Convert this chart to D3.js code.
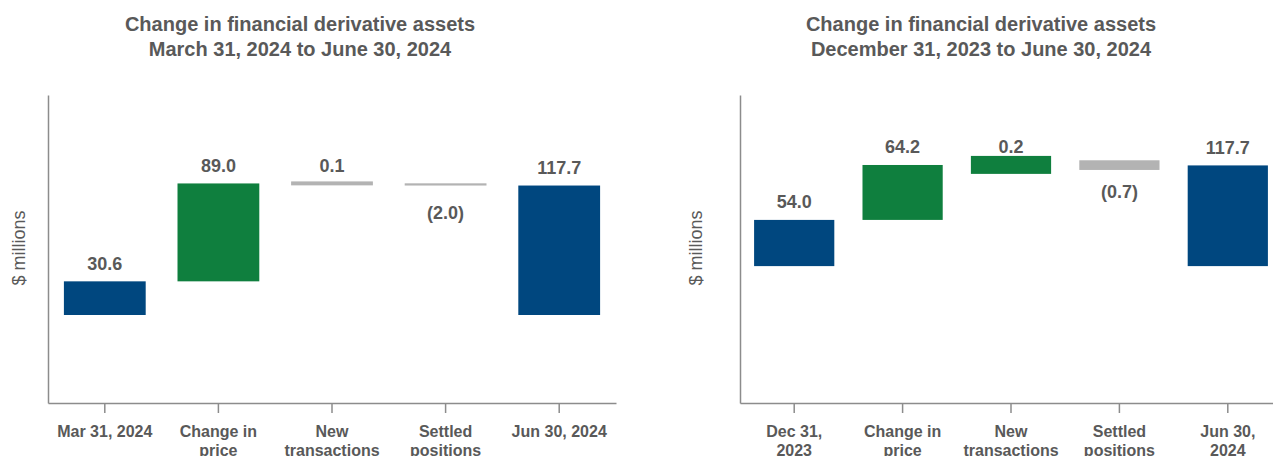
<!DOCTYPE html>
<html>
<head>
<meta charset="utf-8">
<script src="https://cdn.jsdelivr.net/npm/d3@7"></script>
<style>
  body { margin: 0; background: #fff; }
  svg { display: block; font-family: "Liberation Sans", Arial, sans-serif; }
</style>
</head>
<body>
<svg id="chart" width="1273" height="456"></svg>
<script>
// quarter: Mar 31 -> Jun 30, 2024
var q2Titles = ["Change in financial derivative assets", "March 31, 2024 to June 30, 2024"];
var q2Categories = [["Mar 31, 2024"], ["Change in", "price"], ["New", "transactions"], ["Settled", "positions"], ["Jun 30, 2024"]];
var q2Values = [30.6, 89.0, 0.1, -2.0, 117.7];
var q2Labels = ["30.6", "89.0", "0.1", "(2.0)", "117.7"];
var q2Kinds = ["total", "gain", "flat", "loss", "total"];
// drawn thickness of the small steps ($ millions), as it shows in the picture
var q2Shown = [null, null, 3.6, 2.0, null];

// six months: Dec 31, 2023 -> Jun 30, 2024
var h1Titles = ["Change in financial derivative assets", "December 31, 2023 to June 30, 2024"];
var h1Categories = [["Dec 31,", "2023"], ["Change in", "price"], ["New", "transactions"], ["Settled", "positions"], ["Jun 30,", "2024"]];
var h1Values = [54.0, 64.2, 0.2, -0.7, 117.7];
var h1Labels = ["54.0", "64.2", "0.2", "(0.7)", "117.7"];
var h1Kinds = ["total", "gain", "gain", "loss", "total"];
var h1Shown = [null, null, 21, 11.3, null];

var colors = { total: "#00477f", gain: "#0f7f3e", flat: "#b3b3b3", loss: "#b3b3b3" };
var textColor = "#595959";
var axisColor = "#8c8c8c";

var svg = d3.select("#chart");

function waterfall(opts) {
    var g = svg.append("g");
    var keys = opts.categories.map(function(c) { return c.join("\n"); });

    var x = d3.scaleBand()
        .domain(keys)
        .range(opts.xRange)
        .paddingInner(opts.pad)
        .paddingOuter(opts.pad / 2);

    var y = d3.scaleLinear()
        .domain(opts.yDomain)
        .range([403, 95]);

    // running totals
    var level = 0;
    var rows = opts.values.map(function(v, i) {
        var r = { key: keys[i], kind: opts.kinds[i], label: opts.labels[i], value: v };
        if (opts.kinds[i] === "total") {
            r.lo = 0; r.hi = v; level = v;
        } else {
            r.lo = Math.min(level, level + v);
            r.hi = Math.max(level, level + v);
            level = level + v;
        }
        r.shown = opts.shown[i];
        return r;
    });

    // titles
    g.append("text")
        .attr("x", opts.titleX)
        .attr("text-anchor", "middle")
        .attr("font-weight", "bold")
        .attr("font-size", "20px")
        .attr("fill", textColor)
        .selectAll("tspan")
        .data(opts.titles)
        .enter().append("tspan")
        .attr("x", opts.titleX)
        .attr("y", function(d, i) { return 31 + i * 25; })
        .text(function(d) { return d; });

    // y axis (line only)
    g.append("g")
        .attr("transform", "translate(" + opts.xRange[0] + ",0)")
        .call(d3.axisLeft(y).tickValues([]).tickSizeOuter(0))
        .select(".domain")
        .attr("stroke", axisColor)
        .attr("stroke-width", 1.5);

    g.append("text")
        .attr("transform", "translate(" + opts.yLabelX + ",248) rotate(-90)")
        .attr("text-anchor", "middle")
        .attr("dominant-baseline", "middle")
        .attr("font-size", "18px")
        .attr("fill", textColor)
        .text("$ millions");

    // x axis
    var xa = g.append("g")
        .attr("transform", "translate(0," + y(opts.yDomain[0]) + ")")
        .call(d3.axisBottom(x).tickSize(10).tickSizeOuter(0).tickFormat(function() { return ""; }));
    xa.selectAll(".domain, .tick line")
        .attr("stroke", axisColor)
        .attr("stroke-width", 1.5);
    xa.selectAll(".tick text").remove();
    xa.selectAll(".tick").append("text")
        .attr("text-anchor", "middle")
        .attr("font-weight", "bold")
        .attr("font-size", "16px")
        .attr("fill", textColor)
        .each(function(d) {
            var t = d3.select(this);
            d.split("\n").forEach(function(line, i) {
                t.append("tspan")
                    .attr("x", 0)
                    .attr("y", 34 + i * 19)
                    .text(line);
            });
        });

    // bars
    g.selectAll("rect.bar")
        .data(rows)
        .enter().append("rect")
        .attr("class", "bar")
        .attr("x", function(d) { return x(d.key); })
        .attr("width", x.bandwidth())
        .attr("y", function(d) {
            if (d.shown != null) { var mid = (d.lo + d.hi) / 2; return y(mid + d.shown / 2); }
            return y(d.hi);
        })
        .attr("height", function(d) {
            if (d.shown != null) return y(0) - y(d.shown);
            return y(d.lo) - y(d.hi);
        })
        .attr("fill", function(d) { return colors[d.kind]; });

    // value labels
    g.selectAll("text.val")
        .data(rows)
        .enter().append("text")
        .attr("class", "val")
        .attr("x", function(d) { return x(d.key) + x.bandwidth() / 2; })
        .attr("y", function(d) { return d.value < 0 ? y(d.lo) + 27 : y(d.hi) - 17.5; })
        .attr("text-anchor", "middle")
        .attr("dominant-baseline", "central")
        .attr("font-weight", "bold")
        .attr("font-size", "18px")
        .attr("fill", textColor)
        .text(function(d) { return d.label; });
}

waterfall({
    titles: q2Titles, categories: q2Categories, values: q2Values, labels: q2Labels,
    kinds: q2Kinds, shown: q2Shown,
    xRange: [48, 616], pad: 0.28, yDomain: [-80, 200], titleX: 300, yLabelX: 20
});

waterfall({
    titles: h1Titles, categories: h1Categories, values: h1Values, labels: h1Labels,
    kinds: h1Kinds, shown: h1Shown,
    xRange: [740, 1282], pad: 0.26, yDomain: [-160, 200], titleX: 981, yLabelX: 697
});
</script>
</body>
</html>
